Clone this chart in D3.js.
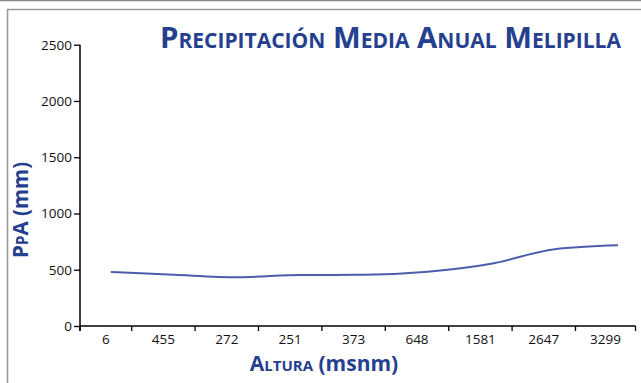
<!DOCTYPE html>
<html>
<head>
<meta charset="utf-8">
<script src="https://cdn.jsdelivr.net/npm/d3@7"></script>
<style>
  html, body { margin: 0; padding: 0; background: #fff; }
  svg { display: block; }
</style>
</head>
<body>
<svg id="chart" width="641" height="383"></svg>
<script>
// Altitude stations (msnm) in the order they appear along the axis
const categories = ["6", "455", "272", "251", "373", "648", "1581", "2647", "3299"];
// Mean annual precipitation (mm) at each station
const precipitation = [481, 455, 434, 453, 455, 482, 553, 683, 718];
// Value-axis ticks
const yTicks = [0, 500, 1000, 1500, 2000, 2500];

const titleText = "Precipitación Media Anual Melipilla";

const blue = "#24408f";
const lineBlue = "#4d5dab";
const font = "'Open Sans', 'Noto Sans', sans-serif";

const svg = d3.select("#chart");

// frame lines
svg.append("line").attr("x1", 0).attr("x2", 641).attr("y1", 0.5).attr("y2", 0.5)
  .attr("stroke", "#8a8a8a").attr("stroke-width", 1.5);
svg.append("path").attr("d", "M7.5,383 V9.5 H641")
  .attr("fill", "none").attr("stroke", "#9a9a9a").attr("stroke-width", 1.6);

// plot area
const plotLeft = 80, plotRight = 635.5, plotTop = 44.7, plotBottom = 326;

const y = d3.scaleLinear().domain([0, 2500]).range([plotBottom, plotTop]);
// category bands run slightly past both ends of the plot area
const x = d3.scaleBand().domain(categories).range([68.3, 638.9]).paddingInner(0).paddingOuter(0);

// y axis
const yAxis = d3.axisLeft(y).tickValues(yTicks).tickSize(6).tickSizeOuter(0).tickFormat(d3.format("d"));
const gy = svg.append("g").attr("transform", `translate(${plotLeft},0)`).call(yAxis);
gy.select(".domain").attr("stroke", "#000").attr("stroke-width", 1.5)
  .attr("d", `M0,${plotTop}V${plotBottom + 5}`);
gy.selectAll(".tick line").attr("stroke", "#000").attr("stroke-width", 1.3);
gy.selectAll(".tick text").attr("font-family", font).attr("font-size", 13.5)
  .attr("fill", "#111").attr("x", -8);

// x axis: ticks on the visible band edges, labels centred in each visible band
const edges = [plotLeft, ...categories.slice(1).map(c => x(c)), plotRight];
const gx = svg.append("g");
gx.append("line").attr("x1", plotLeft).attr("x2", plotRight)
  .attr("y1", plotBottom).attr("y2", plotBottom)
  .attr("stroke", "#000").attr("stroke-width", 1.5);
gx.selectAll("line.tick").data(edges).join("line").attr("class", "tick")
  .attr("x1", d => d).attr("x2", d => d)
  .attr("y1", plotBottom).attr("y2", plotBottom + 5)
  .attr("stroke", "#000").attr("stroke-width", 1.3);
gx.selectAll("text").data(categories).join("text")
  .attr("x", (d, i) => (edges[i] + edges[i + 1]) / 2)
  .attr("y", 344)
  .attr("text-anchor", "middle")
  .attr("font-family", font).attr("font-size", 13.5).attr("fill", "#111")
  .text(d => d);

// precipitation line (trace sits right of the band centres)
const lineX = c => x(c) + x.bandwidth() * 0.67;
const line = d3.line()
  .x((d, i) => lineX(categories[i]))
  .y(d => y(d))
  .curve(d3.curveMonotoneX);
svg.append("path").datum(precipitation)
  .attr("d", line)
  .attr("fill", "none").attr("stroke", lineBlue).attr("stroke-width", 2);

// title
const title = svg.append("text")
  .attr("x", 160).attr("y", 47.5)
  .attr("font-family", font).attr("font-weight", 700)
  .attr("font-size", 25).attr("fill", blue)
  .style("font-variant", "small-caps")
  .text(titleText);
const tw = title.node().getComputedTextLength();
title.attr("font-size", 25 * 464 / tw);

// y axis title
const yt = svg.append("text")
  .attr("transform", "translate(28,210) rotate(-90)")
  .attr("text-anchor", "middle")
  .attr("font-family", font).attr("font-weight", 700).attr("font-size", 20.5).attr("fill", blue);
yt.append("tspan").text("P");
yt.append("tspan").attr("font-size", 15.5).text("P");
yt.append("tspan").text("A (mm)");

// x axis title
const xt = svg.append("text")
  .attr("x", 324).attr("y", 371)
  .attr("text-anchor", "middle")
  .attr("font-family", font).attr("font-weight", 700).attr("font-size", 21).attr("fill", blue);
xt.append("tspan").style("font-variant", "small-caps").text("Altura");
xt.append("tspan").text(" (msnm)");
</script>
</body>
</html>
